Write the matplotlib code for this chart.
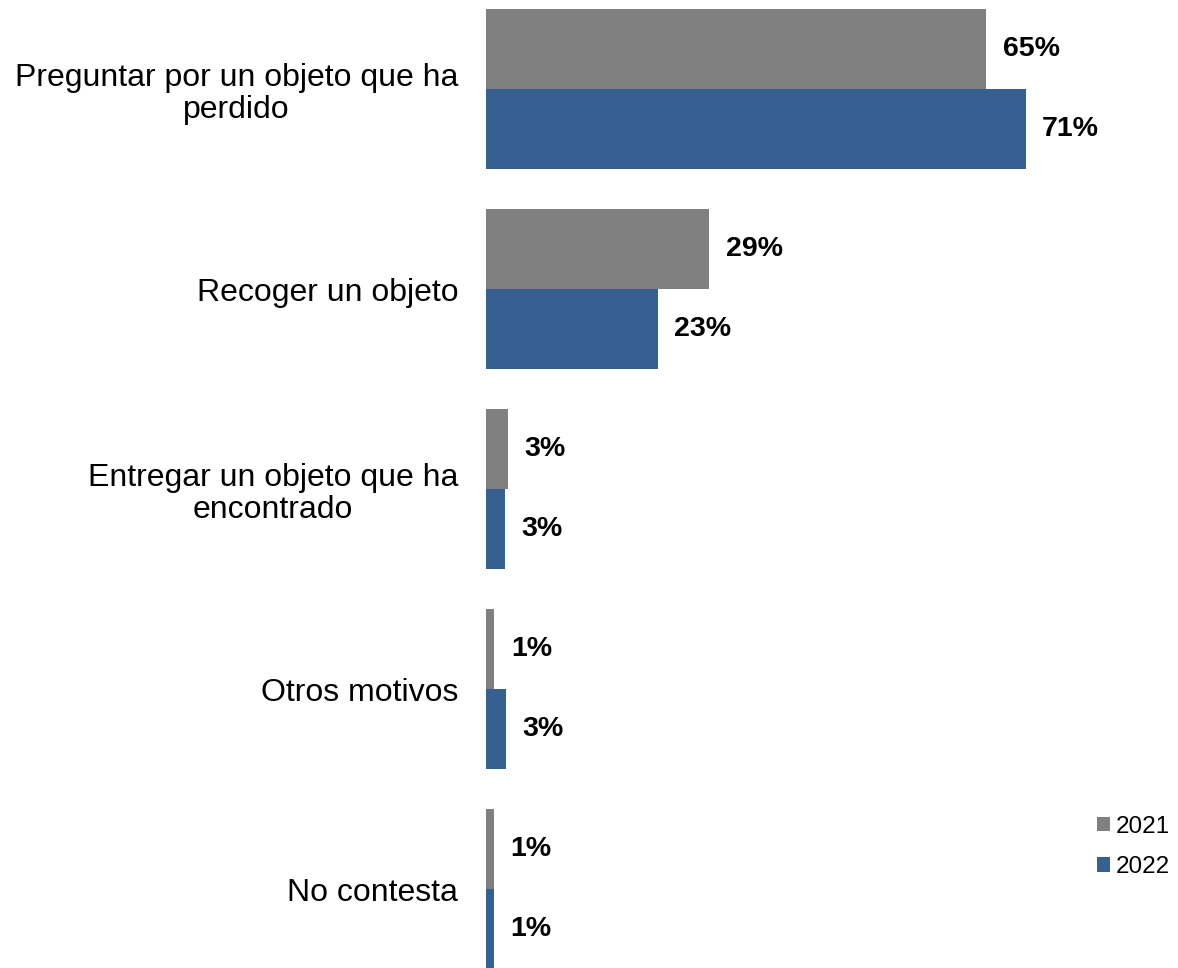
import numpy as np
import matplotlib.pyplot as plt

plt.rcParams['font.family'] = ['Liberation Sans', 'DejaVu Sans']

categories = ["Preguntar por un objeto que ha\nperdido", "Recoger un objeto",
              "Entregar un objeto que ha\nencontrado", "Otros motivos", "No contesta"]
years = ["2021", "2022"]
vals_2021 = [65.8, 29.4, 2.9, 1.1, 1.0]
vals_2022 = [71.0, 22.6, 2.5, 2.6, 1.0]
labels_2021 = ["65%", "29%", "3%", "1%", "1%"]
labels_2022 = ["71%", "23%", "3%", "3%", "1%"]
colors = ["#808080", "#366092"]

fig = plt.figure(figsize=(11.78, 9.68), dpi=100)
ax = fig.add_axes([486 / 1178, 0, 576 / 1178, 1])

y = np.arange(len(categories))
h = 0.4
series = [(vals_2021, labels_2021), (vals_2022, labels_2022)]
for i, (vals, labs) in enumerate(series):
    pos = y - h / 2 + i * h
    bars = ax.barh(pos, vals, height=h, color=colors[i], label=years[i])
    for b, lab in zip(bars, labs):
        ax.annotate(lab, (b.get_width(), b.get_y() + b.get_height() / 2),
                    xytext=(12, 0), textcoords='offset points',
                    ha='left', va='center', fontsize=20.5, fontweight='bold')

ax.set_xlim(0, 75.8)
ax.set_ylim(4.395, -0.445)
ax.set_yticks(y)
ax.set_yticklabels(categories, fontsize=23, multialignment='center', linespacing=1.1)
ax.tick_params(axis='y', length=0, pad=20)
ax.set_xticks([])
for s in ax.spines.values():
    s.set_visible(False)

fig.legend(loc='upper left', bbox_to_anchor=(1087 / 1178, 1 - 806 / 968),
           frameon=False, fontsize=17.5, handlelength=0.55, handleheight=0.55,
           handletextpad=0.25, labelspacing=0.75, borderaxespad=0)

fig.savefig("out.png", dpi=100)
